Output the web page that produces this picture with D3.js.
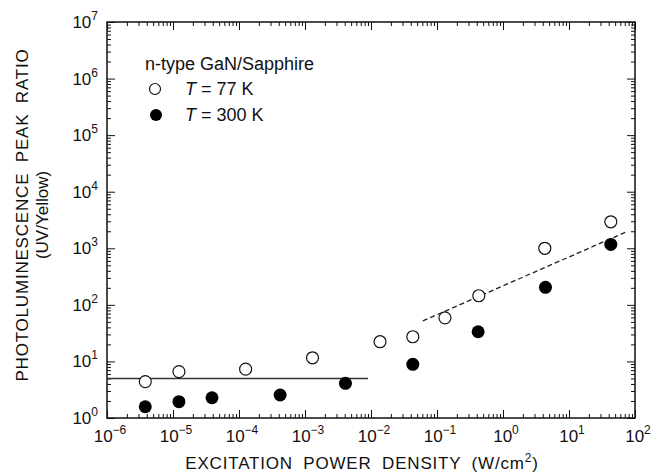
<!DOCTYPE html>
<html>
<head>
<meta charset="utf-8">
<script src="https://cdn.jsdelivr.net/npm/d3@7"></script>
<style>
  body { margin: 0; background: #fff; }
  text { font-family: "Liberation Sans", Arial, Helvetica, sans-serif; fill: #111; }
</style>
</head>
<body>
<div id="chart"></div>
<script>
// values
const power77 = [3.8e-6, 1.23e-5, 1.26e-4, 1.3e-3, 1.37e-2, 4.3e-2, 0.132, 0.43, 4.3, 43];
const ratio77 = [4.4, 6.6, 7.3, 11.6, 22.3, 27.3, 59, 145, 1000, 2940];
const power300 = [3.8e-6, 1.23e-5, 3.9e-5, 4.2e-4, 4.1e-3, 4.3e-2, 0.42, 4.4, 43];
const ratio300 = [1.58, 1.94, 2.28, 2.55, 4.1, 8.9, 33.5, 204, 1170];

// guide lines
const lowFitX = [1e-6, 9e-3];
const lowFitY = [5, 5];
const highFitX = [0.061, 71];
const highFitY = [52, 1910];

const xExps = [-6, -5, -4, -3, -2, -1, 0, 1, 2];
const yExps = [0, 1, 2, 3, 4, 5, 6, 7];

const W = 665, H = 475;
const plotL = 107, plotR = 635, plotT = 22, plotB = 418;

const svg = d3.select("#chart").append("svg")
    .attr("width", W)
    .attr("height", H);

const x = d3.scaleLog().domain([1e-6, 1e2]).range([plotL, plotR]);
const y = d3.scaleLog().domain([1, 1e7]).range([plotB, plotT]);

// minor tick values (2..9 in each decade)
function minors(exps) {
    const out = [];
    exps.slice(0, -1).forEach(e => {
        for (let k = 2; k <= 9; k++) out.push(k * Math.pow(10, e));
    });
    return out;
}
const xMajor = xExps.map(e => Math.pow(10, e));
const yMajor = yExps.map(e => Math.pow(10, e));

function styleAxis(g) {
    g.select(".domain").remove();
    g.selectAll("line").attr("stroke", "#111").attr("stroke-width", 1);
}

// ticks on all four sides, pointing inward
[[d3.axisBottom, plotB], [d3.axisTop, plotT]].forEach(([ax, pos]) => {
    svg.append("g").attr("transform", `translate(0,${pos})`)
        .call(ax(x).tickValues(xMajor).tickSize(-8).tickFormat(""))
        .call(styleAxis);
    svg.append("g").attr("transform", `translate(0,${pos})`)
        .call(ax(x).tickValues(minors(xExps)).tickSize(-4).tickFormat(""))
        .call(styleAxis);
});
[[d3.axisLeft, plotL], [d3.axisRight, plotR]].forEach(([ax, pos]) => {
    svg.append("g").attr("transform", `translate(${pos},0)`)
        .call(ax(y).tickValues(yMajor).tickSize(-8).tickFormat(""))
        .call(styleAxis);
    svg.append("g").attr("transform", `translate(${pos},0)`)
        .call(ax(y).tickValues(minors(yExps)).tickSize(-4).tickFormat(""))
        .call(styleAxis);
});

// frame
svg.append("rect")
    .attr("x", plotL).attr("y", plotT)
    .attr("width", plotR - plotL).attr("height", plotB - plotT)
    .attr("fill", "none").attr("stroke", "#111").attr("stroke-width", 1.5);

// tick labels as 10 with superscript exponent
function powLabel(sel, e) {
    sel.append("tspan").text("10");
    sel.append("tspan").attr("dy", -8).attr("font-size", 12)
        .text(e < 0 ? "\u2212" + (-e) : e);
}
xExps.forEach(e => {
    const t = svg.append("text")
        .attr("x", x(Math.pow(10, e)) + 3)
        .attr("y", 442)
        .attr("text-anchor", "middle")
        .attr("font-size", 17);
    powLabel(t, e);
});
yExps.forEach(e => {
    const t = svg.append("text")
        .attr("x", 98)
        .attr("y", y(Math.pow(10, e)) + 6)
        .attr("text-anchor", "end")
        .attr("font-size", 17);
    powLabel(t, e);
});

// axis titles
const xTitle = svg.append("text")
    .attr("x", 362).attr("y", 469)
    .attr("text-anchor", "middle")
    .attr("font-size", 17)
    .attr("letter-spacing", 0.8)
    .attr("word-spacing", 5);
xTitle.append("tspan").text("EXCITATION POWER DENSITY (W/cm");
xTitle.append("tspan").attr("dy", -7).attr("font-size", 12).text("2");
xTitle.append("tspan").attr("dy", 7).text(")");

svg.append("text")
    .attr("transform", "translate(28,215) rotate(-90)")
    .attr("text-anchor", "middle")
    .attr("font-size", 17)
    .attr("letter-spacing", 0.8)
    .attr("word-spacing", 5)
    .text("PHOTOLUMINESCENCE PEAK RATIO");
svg.append("text")
    .attr("transform", "translate(48,215) rotate(-90)")
    .attr("text-anchor", "middle")
    .attr("font-size", 17)
    .text("(UV/Yellow)");

// fitted lines
const line = d3.line().x(d => x(d[0])).y(d => y(d[1]));
svg.append("path")
    .datum(d3.zip(lowFitX, lowFitY))
    .attr("d", line)
    .attr("fill", "none").attr("stroke", "#333").attr("stroke-width", 1.6);
svg.append("path")
    .datum(d3.zip(highFitX, highFitY))
    .attr("d", line)
    .attr("fill", "none").attr("stroke", "#222").attr("stroke-width", 1.3)
    .attr("stroke-dasharray", "5,3");

// data points
svg.selectAll(".p77")
    .data(d3.zip(power77, ratio77))
  .enter().append("circle")
    .attr("class", "p77")
    .attr("cx", d => x(d[0]))
    .attr("cy", d => y(d[1]))
    .attr("r", 6)
    .attr("fill", "#fff").attr("stroke", "#111").attr("stroke-width", 1.2);
svg.selectAll(".p300")
    .data(d3.zip(power300, ratio300))
  .enter().append("circle")
    .attr("class", "p300")
    .attr("cx", d => x(d[0]))
    .attr("cy", d => y(d[1]))
    .attr("r", 6.5)
    .attr("fill", "#000");

// legend
svg.append("text")
    .attr("x", 145).attr("y", 70)
    .attr("font-size", 18)
    .text("n-type GaN/Sapphire");
svg.append("circle")
    .attr("cx", 155).attr("cy", 89).attr("r", 5.5)
    .attr("fill", "#fff").attr("stroke", "#111").attr("stroke-width", 1.2);
svg.append("circle")
    .attr("cx", 156).attr("cy", 115).attr("r", 6)
    .attr("fill", "#000");
[["77 K", 95], ["300 K", 121]].forEach(([lab, yy]) => {
    const t = svg.append("text").attr("x", 185).attr("y", yy).attr("font-size", 18);
    t.append("tspan").attr("font-style", "italic").text("T");
    t.append("tspan").text(" = " + lab);
});
</script>
</body>
</html>
